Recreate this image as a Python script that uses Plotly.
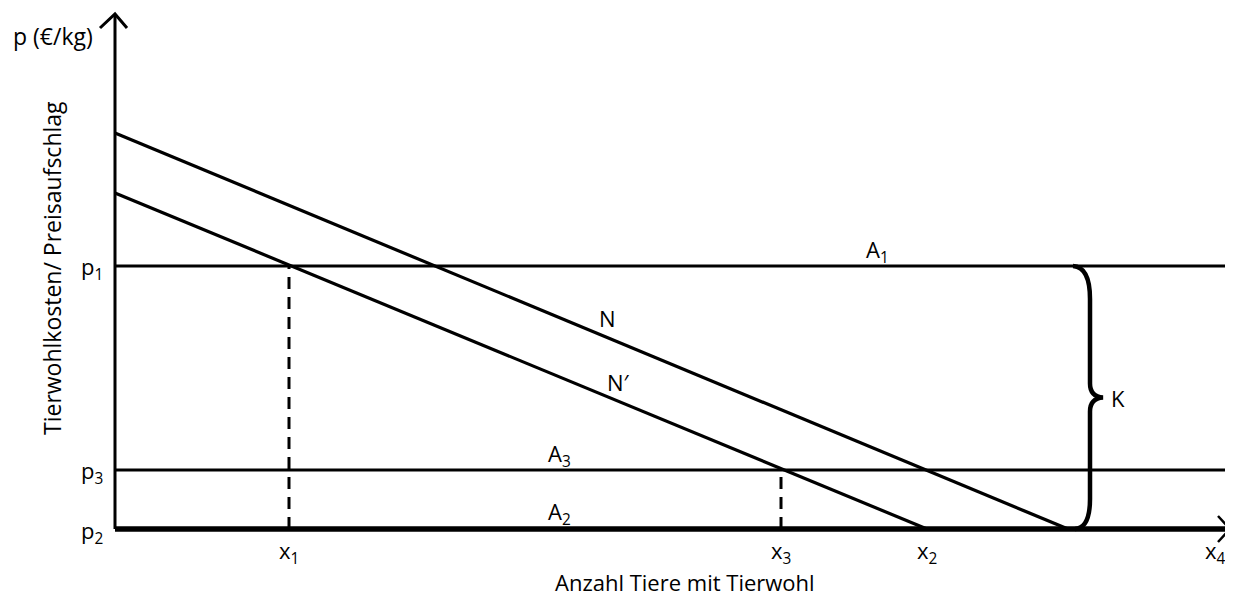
import plotly.graph_objects as go

# diagram values (units: x = animals, y = price)
x_marks = {"x1": 1.74, "x3": 6.66, "x2": 8.12, "x4": 11.0}
p_levels = {"p1": 2.63, "p3": 0.59, "p2": 0.0}
n_intercepts = [3.96, 9.53]      # N: y-intercept, x-intercept
n2_intercepts = [3.36, 8.12]     # N': y-intercept, x-intercept
x_end, y_end = 11.15, 5.15
x_right = 11.18

font = "Open Sans"
black = "#000000"

fig = go.Figure()

def line(xs, ys, width=2.5, dash="solid"):
    fig.add_trace(go.Scatter(x=xs, y=ys, mode="lines", hoverinfo="skip",
                             line=dict(color=black, width=width, dash=dash),
                             showlegend=False))

# axes
line([0, 0], [0, y_end], width=3)
line([-0.15, 0, 0.12], [y_end - 0.14, y_end, y_end - 0.14], width=3)
line([0, x_end], [0, 0], width=5.5)
line([x_end - 0.12, x_end, x_end - 0.12], [0.13, 0, -0.13], width=2.5)

# horizontal price lines
line([0, x_right], [p_levels["p1"], p_levels["p1"]], width=2.8)
line([0, x_right], [p_levels["p3"], p_levels["p3"]], width=2.8)

# demand curves
line([0, n_intercepts[1]], [n_intercepts[0], 0], width=3.2)
line([0, n2_intercepts[1]], [n2_intercepts[0], 0], width=3.2)

# dashed drop lines
line([x_marks["x1"], x_marks["x1"]], [0, p_levels["p1"]], width=3, dash="12px,8px")
line([x_marks["x3"], x_marks["x3"]], [0, p_levels["p3"]], width=3, dash="12px,8px")

# curly brace K between p1 and p2
top, bot = p_levels["p1"], p_levels["p2"]
mid = (top + bot) / 2
bx0, bx1, btip = 9.58, 9.75, 9.88
brace = (f"M {bx0},{top} Q {bx1},{top - 0.01} {bx1},{top - 0.33} "
         f"L {bx1},{mid + 0.14} Q {bx1},{mid + 0.01} {btip},{mid} "
         f"Q {bx1},{mid - 0.01} {bx1},{mid - 0.14} "
         f"L {bx1},{bot + 0.30} Q {bx1},{bot + 0.01} {bx0 + 0.02},{bot}")
fig.add_shape(type="path", path=brace, xref="x", yref="y",
              line=dict(color=black, width=4.5))

def label(text, x, y, size=22, xanchor="center", angle=0):
    fig.add_annotation(text=text, x=x, y=y, xref="x", yref="y", showarrow=False,
                       xanchor=xanchor, yanchor="middle", textangle=angle,
                       font=dict(family=font, size=size, color=black))

# left labels
label("p<sub>1</sub>", -0.1, p_levels["p1"] - 0.02, xanchor="right")
label("p<sub>3</sub>", -0.1, p_levels["p3"] - 0.02, xanchor="right")
label("p<sub>2</sub>", -0.1, p_levels["p2"] - 0.03, xanchor="right")
label("p (€/kg)", -0.2, 4.93, size=23, xanchor="right")

# x labels
for k, v in x_marks.items():
    label(f"x<sub>{k[1]}</sub>", v, -0.23)

# curve / line labels
label("A<sub>1</sub>", 7.62, p_levels["p1"] + 0.15)
label("A<sub>3</sub>", 4.44, p_levels["p3"] + 0.15)
label("A<sub>2</sub>", 4.44, 0.16)
label("N", 4.92, 2.11)
label("N′", 5.03, 1.47)
label("K", 10.03, mid)

# axis titles
label("Anzahl Tiere mit Tierwohl", 5.70, -0.525, size=22)
label("Tierwohlkosten/ Preisaufschlag", -0.63, 2.61, size=23, angle=-90)

# the page body has an 8px margin, so the figure starts 8px in
fig.update_xaxes(range=[-1.07, x_right], visible=False)
fig.update_yaxes(range=[-0.67, 5.21], visible=False)
fig.update_layout(width=1225, height=588, margin=dict(l=0, r=0, t=0, b=0),
                  plot_bgcolor="white", paper_bgcolor="white")

fig.write_html("out.html")
